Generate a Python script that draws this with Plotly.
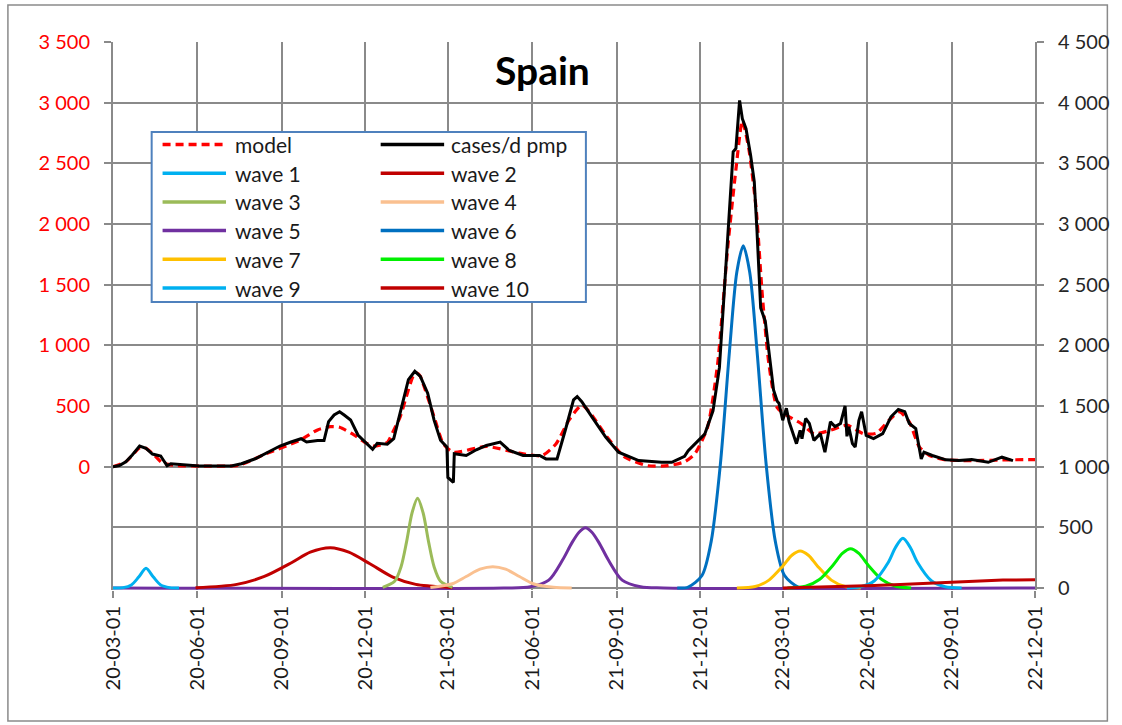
import plotly.graph_objects as go

# ---------------- data ----------------
case_dates = [
    "2020-03-01", "2020-03-08", "2020-03-15", "2020-03-22", "2020-03-30", "2020-04-06",
    "2020-04-13", "2020-04-22", "2020-04-26", "2020-04-29", "2020-05-03", "2020-05-15",
    "2020-06-03", "2020-07-08", "2020-07-19", "2020-08-03", "2020-08-17", "2020-08-30",
    "2020-09-11", "2020-09-22", "2020-09-28", "2020-10-10", "2020-10-17", "2020-10-22",
    "2020-10-28", "2020-11-03", "2020-11-08", "2020-11-15", "2020-11-23", "2020-11-30",
    "2020-12-09", "2020-12-14", "2020-12-25", "2021-01-01", "2021-01-10", "2021-01-17",
    "2021-01-24", "2021-01-30", "2021-02-07", "2021-02-14", "2021-02-21", "2021-02-28",
    "2021-03-01", "2021-03-07", "2021-03-08", "2021-03-21", "2021-04-01", "2021-04-12",
    "2021-04-27", "2021-05-07", "2021-05-22", "2021-06-09", "2021-06-16", "2021-06-28",
    "2021-07-07", "2021-07-16", "2021-07-20", "2021-07-25", "2021-08-05", "2021-08-20",
    "2021-09-03", "2021-09-25", "2021-10-20", "2021-10-31", "2021-11-14", "2021-11-18",
    "2021-12-06", "2021-12-15", "2021-12-22", "2021-12-28", "2022-01-02", "2022-01-06",
    "2022-01-09", "2022-01-13", "2022-01-16", "2022-01-20", "2022-01-25", "2022-01-29",
    "2022-02-01", "2022-02-05", "2022-02-10", "2022-02-16", "2022-02-19", "2022-02-23",
    "2022-02-25", "2022-03-01", "2022-03-05", "2022-03-08", "2022-03-16", "2022-03-20",
    "2022-03-22", "2022-03-26", "2022-03-30", "2022-04-04", "2022-04-11", "2022-04-16",
    "2022-04-22", "2022-04-27", "2022-05-03", "2022-05-08", "2022-05-10", "2022-05-12",
    "2022-05-16", "2022-05-19", "2022-05-23", "2022-05-26", "2022-05-31", "2022-06-08",
    "2022-06-18", "2022-06-27", "2022-07-05", "2022-07-12", "2022-07-17", "2022-07-24",
    "2022-07-30", "2022-08-02", "2022-08-11", "2022-08-26", "2022-09-09", "2022-09-23",
    "2022-10-11", "2022-10-26", "2022-11-07",
]
case_values = [
    0, 10, 41, 96, 170, 151,
    104, 88, 41, 8, 24, 16,
    5, 5, 24, 65, 120, 170,
    203, 230, 203, 215, 215, 371,
    426, 453, 426, 385, 261, 206,
    143, 192, 185, 231, 494, 717,
    786, 744, 606, 383, 217, 161,
    -89, -130, 106, 92, 139, 175,
    203, 133, 92, 92, 64, 64,
    300, 550, 578, 536, 411, 244,
    119, 50, 36, 36, 85, 131,
    268, 460, 816, 1527, 2212, 2595,
    2622, 3019, 2868, 2786, 2567, 2349,
    1938, 1308, 1199, 788, 633, 540,
    522, 383, 481, 369, 189, 300,
    230, 397, 356, 217, 272, 119,
    369, 330, 356, 500, 250, 328,
    190, 161, 380, 453, 258, 231,
    272, 411, 472, 453, 356, 314,
    64, 119, 92, 56, 50, 58,
    36, 78, 50,
]

model_dates = [
    "2020-03-01", "2020-03-15", "2020-03-30", "2020-04-04", "2020-04-13", "2020-04-24",
    "2020-05-09", "2020-06-03", "2020-07-16", "2020-08-14", "2020-09-20", "2020-10-10",
    "2020-10-24", "2020-11-03", "2020-11-17", "2020-11-30", "2020-12-10", "2020-12-25",
    "2021-01-01", "2021-01-08", "2021-01-23", "2021-01-27", "2021-01-30", "2021-02-14",
    "2021-02-24", "2021-03-07", "2021-04-12", "2021-05-18", "2021-06-12", "2021-06-27",
    "2021-07-11", "2021-07-25", "2021-08-05", "2021-08-20", "2021-09-10", "2021-10-05",
    "2021-10-27", "2021-11-14", "2021-11-25", "2021-12-09", "2021-12-20", "2021-12-31",
    "2022-01-09", "2022-01-16", "2022-01-23", "2022-01-31", "2022-02-07", "2022-02-14",
    "2022-02-23", "2022-03-06", "2022-03-21", "2022-04-04", "2022-04-22", "2022-05-10",
    "2022-05-28", "2022-06-11", "2022-06-25", "2022-07-06", "2022-07-17", "2022-07-28",
    "2022-08-08", "2022-08-26", "2022-09-23", "2022-10-30", "2022-12-01",
]
model_values = [
    0, 41, 155, 160, 110, 30,
    10, 5, 12, 104, 215, 303,
    330, 325, 270, 203, 170, 200,
    300, 411, 758, 770, 744, 411,
    189, 119, 167, 111, 92, 189,
    383, 508, 425, 260, 78, 8,
    8, 40, 104, 323, 843, 1801,
    2450, 2850, 2622, 2129, 1390, 843,
    487, 420, 356, 272, 300, 342,
    272, 275, 383, 453, 369, 161,
    92, 56, 50, 56, 58,
]

w1_dates = ["2020-03-01", "2020-03-12", "2020-03-21", "2020-03-29", "2020-04-06",
            "2020-04-14", "2020-04-22", "2020-05-02", "2020-05-12"]
w1_values = [0, 3, 25, 90, 162, 90, 25, 3, 0]

w2_dates = ["2020-05-30", "2020-07-14", "2020-08-13", "2020-09-12", "2020-10-02", "2020-10-24",
            "2020-11-13", "2020-12-06", "2020-12-31", "2021-01-25", "2021-02-09", "2021-03-06"]
w2_values = [2, 30, 95, 210, 295, 332, 295, 200, 90, 30, 16, 3]

w3_dates = ["2020-12-20", "2021-01-02", "2021-01-09", "2021-01-15", "2021-01-21", "2021-01-27",
            "2021-02-02", "2021-02-08", "2021-02-14", "2021-02-21", "2021-03-06"]
w3_values = [5, 55, 175, 380, 620, 739, 620, 380, 175, 55, 5]

w4_dates = ["2021-02-10", "2021-03-06", "2021-03-21", "2021-04-05", "2021-04-19",
            "2021-05-03", "2021-05-18", "2021-06-02", "2021-06-24", "2021-07-14"]
w4_values = [4, 35, 95, 155, 176, 155, 95, 35, 6, 0]

w5_dates = ["2020-03-01", "2021-05-01", "2021-05-30", "2021-06-19", "2021-07-04", "2021-07-14",
            "2021-07-22", "2021-07-29", "2021-08-05", "2021-08-13", "2021-08-23", "2021-09-07",
            "2021-09-27", "2021-10-22", "2022-12-01"]
w5_values = [0, 0, 10, 65, 230, 370, 460, 497, 460, 370, 230, 65, 10, 0, 0]

w6_dates = ["2021-11-06", "2021-11-18", "2021-12-03", "2021-12-13", "2021-12-23", "2022-01-02",
            "2022-01-10", "2022-01-17", "2022-01-24", "2022-02-01", "2022-02-11", "2022-02-21",
            "2022-03-03", "2022-03-18", "2022-04-02"]
w6_values = [0, 8, 103, 382, 1016, 1954, 2604, 2821, 2604, 1954, 1016, 382, 103, 8, 0]

w7_dates = ["2022-01-10", "2022-01-30", "2022-02-14", "2022-03-01", "2022-03-11", "2022-03-20",
            "2022-03-29", "2022-04-08", "2022-04-23", "2022-05-08", "2022-05-25"]
w7_values = [0, 12, 65, 180, 270, 305, 270, 180, 65, 12, 0]

w8_dates = ["2022-03-06", "2022-03-26", "2022-04-10", "2022-04-25", "2022-05-05", "2022-05-14",
            "2022-05-23", "2022-06-02", "2022-06-17", "2022-07-02", "2022-07-19"]
w8_values = [0, 14, 70, 190, 285, 324, 285, 190, 70, 14, 0]

w9_dates = ["2022-05-10", "2022-05-25", "2022-06-09", "2022-06-24", "2022-07-02", "2022-07-10",
            "2022-07-18", "2022-07-26", "2022-08-10", "2022-08-25", "2022-09-12"]
w9_values = [0, 10, 60, 210, 335, 409, 335, 210, 60, 10, 0]

w10_dates = ["2022-03-01", "2022-04-20", "2022-06-09", "2022-07-07", "2022-08-08",
             "2022-08-30", "2022-09-27", "2022-10-27", "2022-12-01"]
w10_values = [0, 8, 20, 28, 40, 47, 58, 66, 68]

left_ticks = [0, 500, 1000, 1500, 2000, 2500, 3000, 3500]
right_ticks = [0, 500, 1000, 1500, 2000, 2500, 3000, 3500, 4000, 4500]

# ---------------- styling ----------------
FONT = "Lato"
GRID = "#8a8a8a"
W, H = 1122, 725
L, R, T, B = 113, 1043, 42, 590          # plot-area edges in pixels
ZERO_PAD = 2                              # px between axis bottom and the zero line
unit_per_px = 4500 / (B - ZERO_PAD - T)
pad_units = ZERO_PAD * unit_per_px


def px_x(x):
    return (x - L) / (R - L)


def px_y(y):
    return (B - y) / (B - T)


def fmt(v):
    return f"{v:,}".replace(",", " ")


waves = [
    ("wave 5", w5_dates, w5_values, "#7030A0", "spline"),
    ("wave 1", w1_dates, w1_values, "#00B0F0", "spline"),
    ("wave 2", w2_dates, w2_values, "#C00000", "spline"),
    ("wave 3", w3_dates, w3_values, "#9BBB59", "spline"),
    ("wave 4", w4_dates, w4_values, "#FAC090", "spline"),
    ("wave 6", w6_dates, w6_values, "#0070C0", "spline"),
    ("wave 7", w7_dates, w7_values, "#FFC000", "spline"),
    ("wave 8", w8_dates, w8_values, "#00F000", "spline"),
    ("wave 9", w9_dates, w9_values, "#00B0F0", "spline"),
    ("wave 10", w10_dates, w10_values, "#C00000", "linear"),
]

fig = go.Figure()

for name, xs, ys, color, shape in waves:
    line = dict(color=color, width=3, shape=shape)
    if shape == "spline":
        line["smoothing"] = 0.8
    fig.add_trace(go.Scatter(x=xs, y=ys, yaxis="y2", mode="lines", name=name,
                             line=line, showlegend=False))

fig.add_trace(go.Scatter(x=model_dates, y=model_values, mode="lines", name="model",
                         line=dict(color="#FF0000", width=3.2, dash="8px,5px",
                                   shape="spline", smoothing=0.6),
                         showlegend=False))
fig.add_trace(go.Scatter(x=case_dates, y=case_values, mode="lines", name="cases/d pmp",
                         line=dict(color="#000000", width=3), showlegend=False))

# ---------------- legend (two columns, boxed) ----------------
legend_items = [
    ("model", "#FF0000", "8px,5px"), ("cases/d pmp", "#000000", "solid"),
    ("wave 1", "#00B0F0", "solid"), ("wave 2", "#C00000", "solid"),
    ("wave 3", "#9BBB59", "solid"), ("wave 4", "#FAC090", "solid"),
    ("wave 5", "#7030A0", "solid"), ("wave 6", "#0070C0", "solid"),
    ("wave 7", "#FFC000", "solid"), ("wave 8", "#00F000", "solid"),
    ("wave 9", "#00B0F0", "solid"), ("wave 10", "#C00000", "solid"),
]
shapes = [
    dict(type="rect", xref="paper", yref="paper", layer="below",
         x0=px_x(7), x1=px_x(1116), y0=px_y(721), y1=px_y(5),
         line=dict(color="#8a8a8a", width=1.5), fillcolor="rgba(0,0,0,0)"),
    dict(type="rect", xref="paper", yref="paper", layer="above",
         x0=px_x(152), x1=px_x(590), y0=px_y(302), y1=px_y(132),
         line=dict(color="#4F81BD", width=2), fillcolor="white"),
]
annotations = [
    dict(text="<b>Spain</b>", xref="paper", yref="paper", x=px_x(546), y=px_y(70),
         xanchor="center", yanchor="middle", showarrow=False,
         font=dict(family=FONT, size=39, color="#000000")),
]
col_line_x = [(163, 227), (383, 447)]
col_text_x = [234, 452]
row_y0, row_step = 144.5, 28.7
for i, (label, color, dash) in enumerate(legend_items):
    row, col = divmod(i, 2)
    yy = row_y0 + row * row_step
    xa, xb = col_line_x[col]
    shapes.append(dict(type="line", xref="paper", yref="paper", layer="above",
                       x0=px_x(xa), x1=px_x(xb), y0=px_y(yy), y1=px_y(yy),
                       line=dict(color=color, width=3.5, dash=dash)))
    annotations.append(dict(text=label, xref="paper", yref="paper",
                            x=px_x(col_text_x[col]), y=px_y(yy),
                            xanchor="left", yanchor="middle", showarrow=False,
                            font=dict(family=FONT, size=21, color="#1a1a1a")))

fig.update_layout(
    width=W, height=H, autosize=False,
    margin=dict(l=L, r=W - R, t=T, b=H - B, pad=0),
    paper_bgcolor="white", plot_bgcolor="white",
    font=dict(family=FONT, size=20, color="#1a1a1a"),
    showlegend=False,
    shapes=shapes, annotations=annotations,
    xaxis=dict(type="date", range=["2020-03-01", "2022-12-01"],
               tick0="2020-03-01", dtick="M3", tickformat="%y-%m-%d", tickangle=-90,
               showgrid=True, gridcolor=GRID, gridwidth=2, zeroline=False,
               showline=False, ticks="outside", ticklen=7, tickwidth=2, tickcolor=GRID,
               tickfont=dict(family=FONT, size=20, color="#1a1a1a")),
    yaxis=dict(range=[-1000 - pad_units, 3500],
               tickvals=left_ticks, ticktext=[fmt(v) for v in left_ticks],
               showgrid=False, zeroline=False, showline=True, linecolor=GRID, linewidth=2,
               ticks="outside", ticklen=7, tickwidth=2, tickcolor=GRID,
               ticklabelstandoff=10,
               tickfont=dict(family=FONT, size=20, color="#FF0000")),
    yaxis2=dict(overlaying="y", side="right", range=[-pad_units, 4500],
                tickvals=right_ticks, ticktext=[fmt(v) for v in right_ticks],
                showgrid=True, gridcolor=GRID, gridwidth=2, zeroline=False,
                showline=True, linecolor=GRID, linewidth=2,
                ticks="outside", ticklen=7, tickwidth=2, tickcolor=GRID,
                ticklabelstandoff=10,
                tickfont=dict(family=FONT, size=20, color="#262626")),
)

fig.write_html("out.html")
